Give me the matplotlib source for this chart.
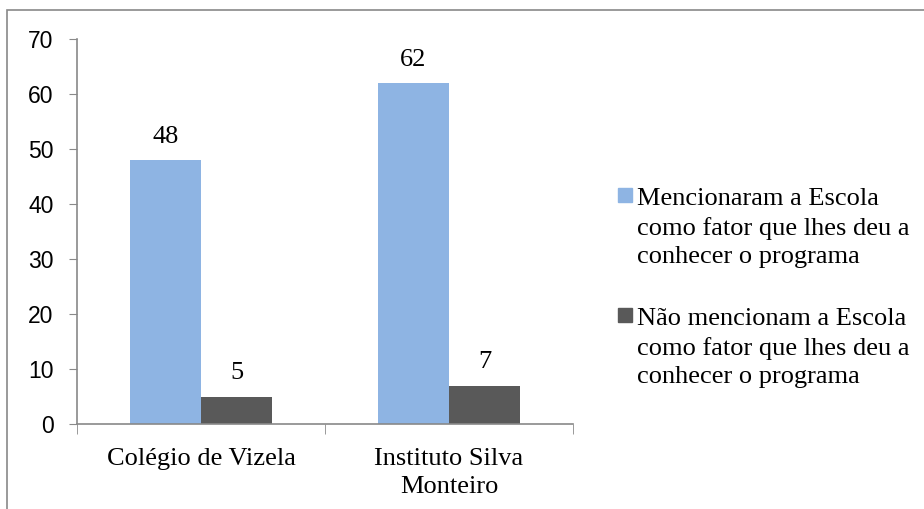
import numpy as np
import matplotlib.pyplot as plt
from matplotlib.patches import Rectangle

# dados
escolas = ['Colégio de Vizela', 'Instituto Silva\nMonteiro']
mencionaram = [48, 62]
nao_mencionam = [5, 7]
series = ['Mencionaram a Escola\ncomo fator que lhes deu a\nconhecer o programa',
          'Não mencionam a Escola\ncomo fator que lhes deu a\nconhecer o programa']
cores = ['#8EB4E3', '#595959']

W, H = 924, 509
fig = plt.figure(figsize=(W / 100, H / 100), dpi=100)
ax = fig.add_axes([77 / W, (H - 424) / H, (573 - 77) / W, (424 - 39) / H])

serif = 'Liberation Serif'
cinza = '#898989'

x = np.arange(len(escolas))
larg = 0.286
b1 = ax.bar(x - larg / 2, mencionaram, larg, color=cores[0])
b2 = ax.bar(x + larg / 2, nao_mencionam, larg, color=cores[1])

# valores em cima das barras
for barras in (b1, b2):
    for r in barras:
        ax.annotate(str(int(r.get_height())), (r.get_x() + r.get_width() / 2, r.get_height()),
                    xytext=(0, 9), textcoords='offset points', ha='center', va='bottom',
                    fontsize=19, family=serif)

ax.set_xlim(-0.5, len(escolas) - 0.5)
ax.set_ylim(0, 70)
ax.set_yticks(range(0, 71, 10))
ax.tick_params(axis='y', labelsize=16.5, length=6, color=cinza, pad=11, direction='out')
for t in ax.get_yticklabels():
    t.set_family('Liberation Sans')

ax.set_xticks(x)
ax.set_xticklabels(escolas, fontsize=19, family=serif, linespacing=1.38)
ax.set_xticks(np.arange(-0.5, len(escolas), 1), minor=True)
ax.tick_params(axis='x', which='major', length=0, pad=17)
ax.tick_params(axis='x', which='minor', length=7, color=cinza)

for s in ('top', 'right'):
    ax.spines[s].set_visible(False)
for s in ('left', 'bottom'):
    ax.spines[s].set_color(cinza)
    ax.spines[s].set_linewidth(1.2)

# legenda desenhada à mão (quadrado alinhado com a 1a linha)
for i, (nome, c) in enumerate(zip(series, cores)):
    yb = 202 + 120 * i
    fig.patches.append(Rectangle((618 / W, (H - yb) / H), 14 / W, 14 / H,
                                 transform=fig.transFigure, color=c))
    # va='baseline' alinha a última linha -> 2 linhas abaixo
    fig.text(637 / W, (H - yb - 61) / H, nome, fontsize=19, family=serif,
             va='baseline', ha='left', linespacing=1.36)

# moldura
fig.patches.append(Rectangle((7 / W, -0.1), 1.2, (H - 10) / H + 0.1,
                             transform=fig.transFigure, fill=False, edgecolor=cinza, lw=1.2))

plt.savefig('out.png', dpi=100)
